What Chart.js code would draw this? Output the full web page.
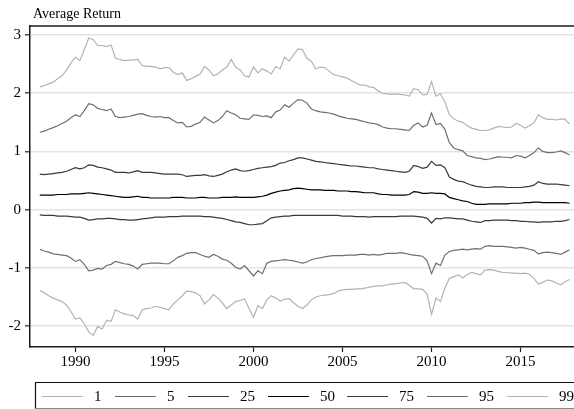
<!DOCTYPE html>
<html>
<head>
<meta charset="utf-8">
<script src="https://cdn.jsdelivr.net/npm/chart.js@4.4.0/dist/chart.umd.min.js"></script>
<style>
html,body{margin:0;padding:0;background:#fff;}
#wrap{width:574px;height:409px;position:relative;}
</style>
</head>
<body>
<div id="wrap"><canvas id="c" width="574" height="409"></canvas></div>
<script>
// quarterly observations, 1988Q1 .. 2017Q4
const years = [1988,1989,1990,1991,1992,1993,1994,1995,1996,1997,1998,1999,2000,2001,2002,2003,2004,2005,2006,2007,2008,2009,2010,2011,2012,2013,2014,2015,2016,2017];
const quarterOffsets = [0, 0.25, 0.5, 0.75];
const xTickYears = [1990, 1995, 2000, 2005, 2010, 2015];
const yTickValues = [-2, -1, 0, 1, 2, 3];
const percentiles = ['1','5','25','50','75','95','99'];

const p99 = [2.11,2.13,2.16,2.19,2.25,2.30,2.40,2.52,2.62,2.56,2.75,2.95,2.92,2.82,2.82,2.80,2.83,2.60,2.58,2.56,
 2.57,2.57,2.58,2.48,2.46,2.46,2.45,2.42,2.44,2.44,2.36,2.32,2.35,2.22,2.25,2.29,2.33,2.46,2.40,2.30,
 2.33,2.40,2.45,2.58,2.45,2.40,2.30,2.28,2.45,2.35,2.42,2.38,2.33,2.46,2.42,2.62,2.55,2.66,2.76,2.75,
 2.60,2.55,2.42,2.45,2.44,2.38,2.32,2.30,2.28,2.26,2.22,2.18,2.14,2.14,2.11,2.10,2.04,2.00,1.99,1.98,
 1.99,1.98,1.97,1.95,2.08,2.06,1.97,1.98,2.20,1.95,1.99,1.85,1.63,1.56,1.52,1.50,1.44,1.40,1.38,1.36,
 1.36,1.37,1.40,1.43,1.42,1.41,1.42,1.48,1.45,1.40,1.44,1.49,1.63,1.58,1.55,1.55,1.54,1.56,1.55,1.47];
const p95 = [1.33,1.35,1.38,1.41,1.44,1.48,1.52,1.58,1.63,1.60,1.70,1.82,1.80,1.74,1.72,1.70,1.73,1.60,1.58,1.59,
 1.60,1.62,1.64,1.65,1.62,1.60,1.59,1.60,1.58,1.58,1.53,1.49,1.50,1.42,1.43,1.47,1.50,1.59,1.54,1.49,
 1.53,1.60,1.70,1.66,1.63,1.57,1.56,1.55,1.63,1.62,1.60,1.61,1.58,1.68,1.71,1.80,1.76,1.83,1.89,1.88,
 1.83,1.73,1.70,1.68,1.67,1.66,1.64,1.61,1.59,1.57,1.56,1.55,1.53,1.51,1.49,1.48,1.46,1.42,1.40,1.39,
 1.39,1.38,1.37,1.36,1.45,1.49,1.42,1.45,1.66,1.46,1.48,1.38,1.15,1.06,1.03,1.01,0.93,0.91,0.89,0.88,
 0.86,0.87,0.89,0.91,0.90,0.90,0.89,0.93,0.92,0.89,0.93,0.98,1.06,1.00,0.98,0.98,0.99,1.01,0.98,0.94];
const p75 = [0.61,0.60,0.61,0.62,0.63,0.64,0.66,0.69,0.72,0.70,0.72,0.77,0.76,0.73,0.72,0.70,0.68,0.64,0.64,0.64,
 0.63,0.65,0.67,0.64,0.64,0.64,0.63,0.62,0.61,0.61,0.61,0.61,0.60,0.57,0.58,0.59,0.59,0.60,0.58,0.57,
 0.59,0.61,0.65,0.68,0.70,0.67,0.66,0.67,0.69,0.71,0.72,0.73,0.74,0.76,0.80,0.81,0.84,0.86,0.89,0.89,
 0.87,0.85,0.83,0.82,0.81,0.80,0.79,0.78,0.77,0.76,0.75,0.75,0.74,0.73,0.72,0.72,0.70,0.69,0.68,0.67,
 0.66,0.65,0.64,0.66,0.76,0.74,0.71,0.73,0.83,0.76,0.77,0.72,0.56,0.52,0.49,0.48,0.45,0.42,0.40,0.39,
 0.38,0.38,0.39,0.39,0.39,0.38,0.38,0.38,0.38,0.39,0.40,0.42,0.48,0.45,0.44,0.44,0.44,0.43,0.42,0.41];
const p50 = [0.25,0.25,0.25,0.25,0.26,0.26,0.26,0.27,0.27,0.27,0.28,0.29,0.28,0.27,0.26,0.25,0.24,0.23,0.22,0.21,
 0.21,0.22,0.23,0.21,0.21,0.20,0.20,0.20,0.20,0.20,0.21,0.21,0.21,0.20,0.20,0.20,0.21,0.21,0.20,0.20,
 0.20,0.21,0.21,0.21,0.22,0.21,0.21,0.21,0.21,0.22,0.23,0.25,0.28,0.30,0.32,0.33,0.34,0.36,0.37,0.36,
 0.35,0.34,0.34,0.34,0.33,0.33,0.33,0.32,0.32,0.32,0.31,0.31,0.30,0.29,0.29,0.29,0.27,0.26,0.26,0.25,
 0.25,0.25,0.25,0.26,0.31,0.30,0.28,0.28,0.29,0.28,0.28,0.27,0.21,0.19,0.17,0.15,0.14,0.11,0.09,0.09,
 0.09,0.10,0.10,0.10,0.10,0.10,0.11,0.11,0.11,0.12,0.12,0.13,0.13,0.12,0.12,0.12,0.12,0.12,0.12,0.11];
const p25 = [-0.09,-0.10,-0.10,-0.10,-0.11,-0.11,-0.11,-0.12,-0.13,-0.13,-0.15,-0.18,-0.17,-0.16,-0.16,-0.15,-0.15,-0.16,-0.17,-0.17,
 -0.18,-0.18,-0.17,-0.16,-0.15,-0.14,-0.13,-0.13,-0.13,-0.12,-0.12,-0.12,-0.11,-0.11,-0.11,-0.11,-0.11,-0.12,-0.12,-0.13,
 -0.14,-0.15,-0.17,-0.19,-0.21,-0.22,-0.24,-0.26,-0.26,-0.25,-0.24,-0.19,-0.14,-0.13,-0.12,-0.11,-0.11,-0.10,-0.10,-0.10,
 -0.10,-0.10,-0.10,-0.10,-0.10,-0.10,-0.10,-0.10,-0.11,-0.11,-0.11,-0.12,-0.12,-0.12,-0.13,-0.12,-0.12,-0.12,-0.12,-0.12,
 -0.12,-0.11,-0.11,-0.11,-0.11,-0.12,-0.13,-0.15,-0.23,-0.15,-0.16,-0.14,-0.14,-0.15,-0.16,-0.16,-0.18,-0.20,-0.21,-0.22,
 -0.19,-0.19,-0.18,-0.18,-0.18,-0.18,-0.19,-0.19,-0.20,-0.20,-0.21,-0.21,-0.22,-0.21,-0.21,-0.21,-0.20,-0.20,-0.19,-0.17];
const p5 = [-0.68,-0.71,-0.73,-0.76,-0.77,-0.78,-0.79,-0.83,-0.89,-0.86,-0.94,-1.05,-1.04,-1.01,-1.02,-0.96,-0.94,-0.89,-0.91,-0.93,
 -0.94,-0.97,-1.02,-0.94,-0.93,-0.92,-0.92,-0.92,-0.93,-0.93,-0.88,-0.82,-0.79,-0.75,-0.74,-0.74,-0.77,-0.80,-0.82,-0.77,
 -0.80,-0.85,-0.87,-0.92,-0.99,-1.02,-0.96,-1.05,-1.14,-1.05,-1.10,-0.92,-0.89,-0.88,-0.87,-0.86,-0.87,-0.88,-0.90,-0.92,
 -0.90,-0.86,-0.84,-0.83,-0.81,-0.80,-0.79,-0.79,-0.79,-0.78,-0.78,-0.78,-0.77,-0.77,-0.78,-0.77,-0.78,-0.77,-0.75,-0.75,
 -0.75,-0.74,-0.75,-0.77,-0.78,-0.79,-0.80,-0.88,-1.10,-0.92,-0.96,-0.78,-0.72,-0.70,-0.69,-0.68,-0.69,-0.68,-0.67,-0.68,
 -0.63,-0.62,-0.63,-0.63,-0.63,-0.64,-0.65,-0.66,-0.65,-0.66,-0.68,-0.70,-0.76,-0.74,-0.73,-0.74,-0.75,-0.77,-0.73,-0.69];
const p1 = [-1.39,-1.43,-1.48,-1.52,-1.55,-1.58,-1.64,-1.75,-1.88,-1.86,-1.96,-2.10,-2.16,-2.01,-2.05,-1.90,-1.92,-1.72,-1.76,-1.79,
 -1.81,-1.82,-1.88,-1.72,-1.70,-1.69,-1.66,-1.68,-1.70,-1.72,-1.62,-1.55,-1.48,-1.40,-1.41,-1.43,-1.48,-1.62,-1.55,-1.46,
 -1.52,-1.60,-1.70,-1.64,-1.58,-1.56,-1.53,-1.70,-1.85,-1.65,-1.70,-1.55,-1.48,-1.52,-1.57,-1.54,-1.53,-1.60,-1.66,-1.70,
 -1.64,-1.55,-1.50,-1.48,-1.47,-1.46,-1.44,-1.40,-1.38,-1.37,-1.37,-1.36,-1.36,-1.35,-1.33,-1.32,-1.31,-1.31,-1.29,-1.28,
 -1.27,-1.26,-1.25,-1.30,-1.36,-1.36,-1.37,-1.45,-1.80,-1.52,-1.58,-1.35,-1.18,-1.15,-1.12,-1.17,-1.12,-1.08,-1.10,-1.12,
 -1.04,-1.03,-1.04,-1.06,-1.08,-1.08,-1.09,-1.09,-1.10,-1.09,-1.11,-1.18,-1.28,-1.25,-1.21,-1.22,-1.26,-1.29,-1.24,-1.20];

const dates = years.flatMap(y => quarterOffsets.map(q => y + q));
const seriesValues = [p1, p5, p25, p50, p75, p95, p99];
const seriesColors = ['#b3b3b3', '#6f6f6f', '#3a3a3a', '#000000', '#3a3a3a', '#6f6f6f', '#b3b3b3'];
const FONT = '"Liberation Serif", "Times New Roman", serif';

const datasets = percentiles.map((p, k) => ({
  label: p,
  data: dates.map((d, i) => ({x: d, y: seriesValues[k][i]})),
  borderColor: seriesColors[k],
  borderWidth: 1.2,
  pointRadius: 0,
  tension: 0,
  fill: false
}));

const decor = {
  id: 'decor',
  afterDraw(chart) {
    const ctx = chart.ctx;
    const ca = chart.chartArea;
    ctx.save();
    // title
    ctx.fillStyle = '#000';
    ctx.font = '14px ' + FONT;
    ctx.textBaseline = 'alphabetic';
    ctx.textAlign = 'left';
    ctx.fillText('Average Return', 33, 18);
    // top frame line
    ctx.strokeStyle = '#1a1a1a';
    ctx.lineWidth = 1.5;
    ctx.beginPath();
    ctx.moveTo(ca.left, ca.top);
    ctx.lineTo(574, ca.top);
    ctx.stroke();
    // legend box
    const lTop = 382, lLeft = 35;
    ctx.lineWidth = 1.2;
    ctx.strokeStyle = '#111';
    ctx.beginPath();
    ctx.moveTo(574, lTop + 0.5); ctx.lineTo(lLeft + 0.5, lTop + 0.5); ctx.lineTo(lLeft + 0.5, 409);
    ctx.stroke();
    ctx.strokeStyle = '#8a8a8a';
    ctx.beginPath();
    ctx.moveTo(lLeft, 408.5); ctx.lineTo(574, 408.5);
    ctx.stroke();
    // legend entries
    const starts = [42, 115, 188, 268, 347, 427, 507];
    const cy = 396.5;
    ctx.font = '15px ' + FONT;
    ctx.textBaseline = 'middle';
    percentiles.forEach((p, k) => {
      const x0 = starts[k];
      ctx.strokeStyle = seriesColors[k];
      ctx.lineWidth = 1.2;
      ctx.beginPath();
      ctx.moveTo(x0, cy); ctx.lineTo(x0 + 41, cy);
      ctx.stroke();
      ctx.fillStyle = '#000';
      ctx.fillText(p, x0 + 52, cy + 1);
    });
    ctx.restore();
  }
};

new Chart(document.getElementById('c'), {
  type: 'line',
  data: { datasets },
  options: {
    responsive: false,
    animation: false,
    events: [],
    layout: { padding: { top: 26, right: 0, left: 0, bottom: 0 } },
    plugins: { legend: { display: false }, tooltip: { enabled: false }, title: { display: false } },
    scales: {
      x: {
        type: 'linear',
        min: 1987.45,
        max: 2018.0,
        afterFit(scale) { scale.height = 62; },
        afterBuildTicks(scale) { scale.ticks = xTickYears.map(v => ({ value: v })); },
        grid: { drawOnChartArea: false, tickLength: 5, tickColor: '#222', tickWidth: 1.2 },
        border: { display: true, color: '#1a1a1a', width: 1.5 },
        ticks: { color: '#000', font: { family: FONT, size: 15 }, padding: 1, maxRotation: 0, autoSkip: false,
                 callback: v => String(v) }
      },
      y: {
        type: 'linear',
        min: -2.36,
        max: 3.155,
        afterFit(scale) { scale.width = 30; },
        afterBuildTicks(scale) { scale.ticks = yTickValues.map(v => ({ value: v })); },
        grid: { color: '#e3e3e3', lineWidth: 1.6, tickLength: 5, tickColor: '#222', tickWidth: 1.2 },
        border: { display: true, color: '#1a1a1a', width: 1.5 },
        ticks: { color: '#000', font: { family: FONT, size: 15 }, padding: 4, autoSkip: false,
                 callback: v => String(v) }
      }
    }
  },
  plugins: [decor]
});
</script>
</body>
</html>
